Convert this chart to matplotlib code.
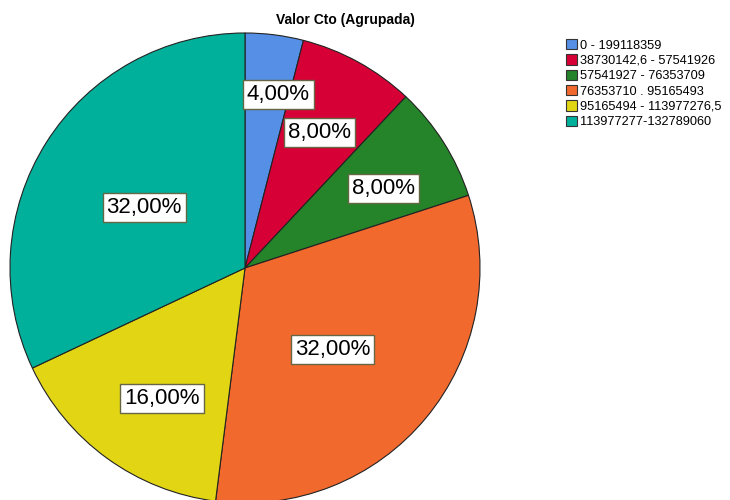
import numpy as np
import matplotlib
matplotlib.use("Agg")
import matplotlib.pyplot as plt
from matplotlib.patches import Patch

plt.rcParams['font.family'] = ['Liberation Sans', 'DejaVu Sans']

# data
categorias = ['0 - 199118359', '38730142,6 - 57541926', '57541927 - 76353709',
              '76353710 . 95165493', '95165494 - 113977276,5', '113977277-132789060']
porcentajes = [4.0, 8.0, 8.0, 32.0, 16.0, 32.0]
colores = ['#5590E6', '#D70036', '#25842A', '#F2692E', '#E2D614', '#00B09A']

# label placement (radius fraction, angle shift in degrees) per wedge
lab_r = [0.75, 0.66, 0.68, 0.51, 0.66, 0.50]
lab_shift = [-3.6, 0, -2.4, -3.4, 3.6, 1.4]

fig = plt.figure(figsize=(7.3, 5), dpi=100)
ax = fig.add_axes([10 / 730, -3 / 500, 470 / 730, 470 / 500])
wedges, _ = ax.pie(porcentajes, colors=colores, startangle=90, counterclock=False,
                   radius=1, wedgeprops=dict(edgecolor='#222222', linewidth=0.8))
ax.set_xlim(-1, 1)
ax.set_ylim(-1, 1)
ax.set_aspect('equal')
ax.axis('off')

for w, p, r, s in zip(wedges, porcentajes, lab_r, lab_shift):
    ang = np.deg2rad((w.theta1 + w.theta2) / 2 + s)
    ax.text(r * np.cos(ang), r * np.sin(ang), '{:.2f}%'.format(p).replace('.', ','),
            ha='center', va='center', fontsize=16,
            bbox=dict(boxstyle='square,pad=0.18', facecolor='white', edgecolor='#666644', linewidth=1))

fig.text(345 / 730, 1 - 20 / 500, 'Valor Cto (Agrupada)', ha='center', va='center',
         fontsize=10, fontweight='bold')

handles = [Patch(facecolor=c, edgecolor='#333333', linewidth=0.8) for c in colores]
fig.legend(handles, categorias, loc='upper left', bbox_to_anchor=(561 / 730, 1 - 34 / 500),
           frameon=False, fontsize=9.2, handlelength=0.85, handleheight=0.85,
           handletextpad=0.2, labelspacing=0.22, borderaxespad=0)

fig.savefig('out.png', dpi=100)
